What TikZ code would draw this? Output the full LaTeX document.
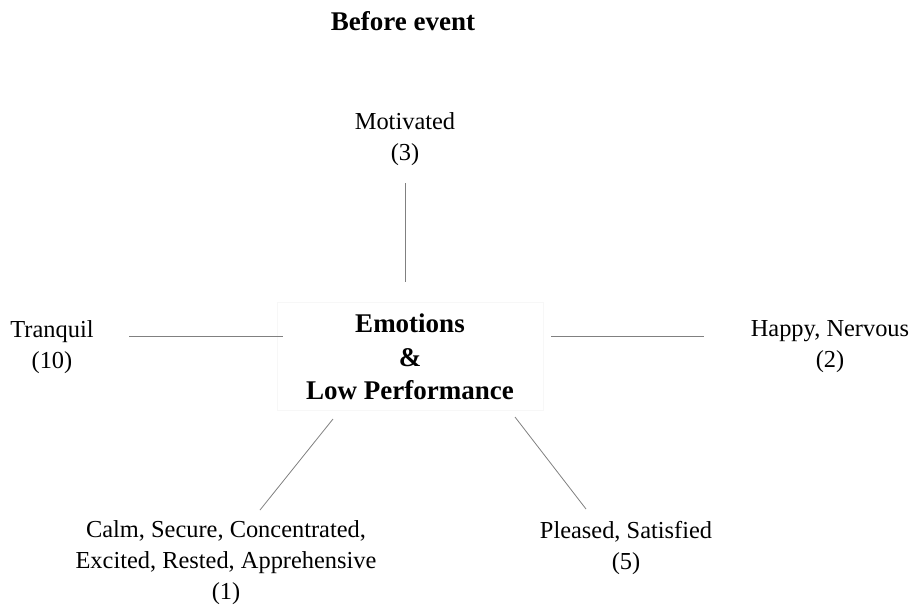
\documentclass[tikz,border=0pt]{standalone}
\usepackage{fontspec}
\setmainfont{Liberation Serif}
\begin{document}
\begin{tikzpicture}[x=1pt,y=-1pt,
  lbl/.style={inner sep=0pt,align=center,font=\fontsize{24.4}{31}\selectfont},
  bold/.style={inner sep=0pt,align=center,font=\fontsize{27}{33.5}\selectfont\bfseries},
  conn/.style={draw=black!50,line width=0.8pt},
  cbox/.style={draw=black!3,line width=0.8pt}]
\useasboundingbox (0,0) rectangle (913,606);
\node[bold,anchor=base] (title) at (403,30) {Before event};
\draw[cbox] (277,302) rectangle (543,410);
\node[bold] (center) at (410,357) {Emotions\\\&\\Low Performance};
\node[lbl] (mot) at (405,139) {Motivated\\(3)};
\node[lbl] (tra) at (52,347) {Tranquil\\(10)};
\node[lbl] (hap) at (830,347) {Happy, Nervous\\(2)};
\node[lbl] (calm) at (226,563) {Calm, Secure, Concentrated,\\Excited, Rested, Apprehensive\\(1)};
\node[lbl] (ple) at (626,548) {Pleased, Satisfied\\(5)};
\coordinate (m1) at (405,183); \coordinate (m2) at (405,282);
\coordinate (t1) at (129,336); \coordinate (t2) at (283,336);
\coordinate (h1) at (551,336); \coordinate (h2) at (704,336);
\coordinate (c1) at (333,419); \coordinate (c2) at (260,510);
\coordinate (p1) at (515,417); \coordinate (p2) at (586,509);
\draw[conn] (m1) -- (m2);
\draw[conn] (t1) -- (t2);
\draw[conn] (h1) -- (h2);
\draw[conn] (c1) -- (c2);
\draw[conn] (p1) -- (p2);
\end{tikzpicture}
\end{document}
